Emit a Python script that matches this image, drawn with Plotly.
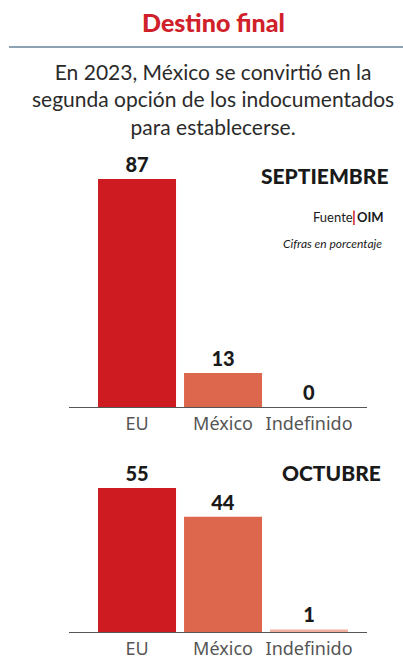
import plotly.graph_objects as go

# data
categorias = ["EU", "México", "Indefinido"]
septiembre = [87, 13, 0]
octubre = [55, 44, 1]
colores = ["#cd1b21", "#dc674d", "#f1b09f"]

W, H = 403, 660


def py(px):
    # pixel row -> paper y
    return 1 - px / H


def px_x(px):
    return px / W


PX_PER_UNIT = 2.62

fig = go.Figure()

fig.add_trace(go.Bar(
    x=categorias, y=septiembre, xaxis="x", yaxis="y",
    marker=dict(color=colores, line=dict(width=0)),
    text=septiembre, textposition="outside", cliponaxis=False,
    textfont=dict(family="Lato", size=20, color="#1a1a1a", weight=900),
    showlegend=False, hoverinfo="skip",
))
fig.add_trace(go.Bar(
    x=categorias, y=octubre, xaxis="x2", yaxis="y2",
    marker=dict(color=colores, line=dict(width=0)),
    text=octubre, textposition="outside", cliponaxis=False,
    textfont=dict(family="Lato", size=20, color="#1a1a1a", weight=900),
    showlegend=False, hoverinfo="skip",
))

xaxis_common = dict(
    range=[-0.791, 2.674],
    domain=[px_x(69), px_x(367)],
    showline=True, linecolor="#555555", linewidth=1.2,
    showgrid=False, zeroline=False, ticks="",
    tickfont=dict(family="Noto Sans", size=18, color="#555555"),
    fixedrange=True,
)
yaxis_common = dict(visible=False, showgrid=False, zeroline=False, fixedrange=True)

top1 = 407 - 95 * PX_PER_UNIT
top2 = 632 - 75 * PX_PER_UNIT

fig.update_layout(
    width=W, height=H,
    margin=dict(l=0, r=0, t=0, b=0),
    paper_bgcolor="white", plot_bgcolor="rgba(0,0,0,0)",
    bargap=0.093,
    xaxis=dict(**xaxis_common, anchor="y"),
    yaxis=dict(**yaxis_common, range=[0, 95], domain=[py(407), py(top1)]),
    xaxis2=dict(**xaxis_common, anchor="y2"),
    yaxis2=dict(**yaxis_common, range=[0, 75], domain=[py(632), py(top2)]),
)

# separator under the title
fig.add_shape(type="line", xref="paper", yref="paper",
              x0=px_x(9), x1=1, y0=py(47), y1=py(47),
              line=dict(color="#8da2b2", width=2))

annotations = [
    dict(text="Destino final", x=px_x(213), y=py(22),
         font=dict(family="Lato", size=25, color="#d0202a", weight=900)),
    dict(text="En 2023, México se convirtió en la<br>segunda opción de los indocumentados<br>para establecerse.",
         x=px_x(213), y=py(99),
         font=dict(family="Lato", size=21, color="#2b2b2b")),
    dict(text="SEPTIEMBRE", x=px_x(391), y=py(175), xanchor="right",
         font=dict(family="Lato", size=21, color="#1a1a1a", weight=900)),
    dict(text="<b>OIM</b>", x=px_x(386), y=py(217), xanchor="right",
         font=dict(family="Lato", size=13, color="#1a1a1a")),
    dict(text="<b>|</b>", x=px_x(358), y=py(216), xanchor="right",
         font=dict(family="Lato", size=15, color="#d0202a", weight=900)),
    dict(text="Fuente", x=px_x(355), y=py(217), xanchor="right",
         font=dict(family="Lato", size=13, color="#1a1a1a")),
    dict(text="<i>Cifras en porcentaje</i>", x=px_x(384), y=py(244), xanchor="right",
         font=dict(family="Lato", size=12, color="#1a1a1a")),
    dict(text="OCTUBRE", x=px_x(383), y=py(472), xanchor="right",
         font=dict(family="Lato", size=21, color="#1a1a1a", weight=900)),
]
for a in annotations:
    a.setdefault("xanchor", "center")
    fig.add_annotation(xref="paper", yref="paper", yanchor="middle",
                       showarrow=False, **a)

fig.write_html("out.html", config={"displayModeBar": False, "staticPlot": True},
               post_script="document.body.style.margin='0';")
